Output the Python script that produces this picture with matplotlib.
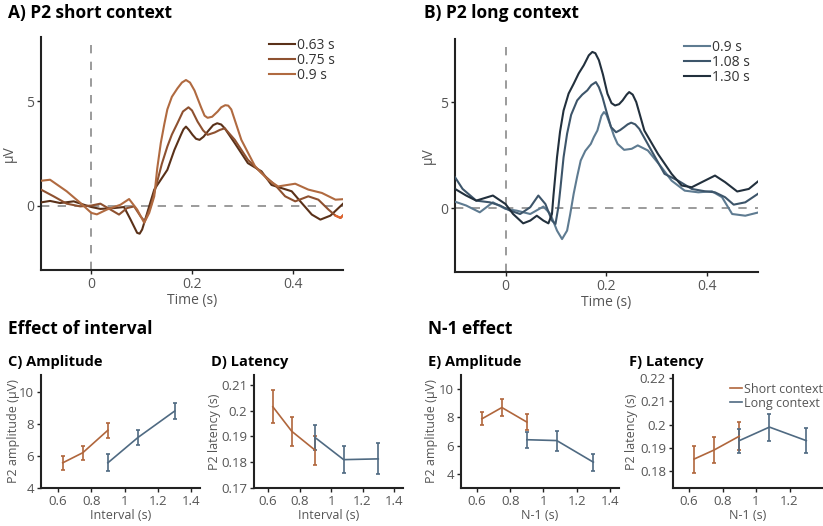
import matplotlib.pyplot as plt

plt.rcParams['font.family'] = ['Open Sans', 'DejaVu Sans']

# ---- ERP waveforms, short context (panel A) ----
t_s063 = [-0.1, -0.082, -0.062, -0.035, -0.015, 0.0, 0.018, 0.045, 0.065, 0.078, 0.091, 0.096,
          0.101, 0.111, 0.125, 0.138, 0.151, 0.165, 0.178, 0.183, 0.188, 0.194, 0.201, 0.208,
          0.215, 0.223, 0.231, 0.242, 0.25, 0.258, 0.265, 0.285, 0.311, 0.338, 0.358, 0.378,
          0.398, 0.418, 0.438, 0.455, 0.475, 0.505]
v_s063 = [0.17, 0.24, 0.14, 0.22, 0.06, -0.05, -0.14, -0.1, -0.05, -0.65, -1.28, -1.32,
          -1.12, -0.33, 0.78, 1.25, 1.72, 2.67, 3.39, 3.65, 3.78, 3.62, 3.39, 3.2,
          3.15, 3.3, 3.54, 3.85, 3.94, 3.88, 3.7, 2.99, 2.04, 1.65, 1.0, 0.85,
          0.7, 0.14, -0.41, -0.65, -0.46, 0.22]

t_s075 = [-0.1, -0.075, -0.049, -0.022, 0.0, 0.018, 0.038, 0.055, 0.071, 0.085, 0.098, 0.106,
          0.118, 0.131, 0.14, 0.151, 0.16, 0.171, 0.182, 0.193, 0.2, 0.211, 0.222, 0.231,
          0.245, 0.255, 0.265, 0.285, 0.311, 0.338, 0.365, 0.385, 0.405, 0.431, 0.451, 0.471,
          0.485, 0.495, 0.505]
v_s075 = [0.78, 0.46, 0.11, -0.02, 0.02, 0.11, -0.17, -0.41, -0.1, -0.02, -0.5, -0.73,
          -0.02, 1.17, 2.0, 2.83, 3.4, 3.94, 4.5, 4.7, 4.55, 4.02, 3.6, 3.39,
          3.5, 3.62, 3.7, 3.15, 2.2, 1.57, 1.0, 0.46, 0.22, 0.46, 0.3, -0.17,
          -0.46, -0.57, -0.33]

t_s090 = [-0.1, -0.082, -0.049, -0.022, 0.0, 0.011, 0.031, 0.058, 0.075, 0.091, 0.105, 0.115,
          0.125, 0.131, 0.138, 0.145, 0.151, 0.16, 0.171, 0.18, 0.188, 0.196, 0.205, 0.218,
          0.225, 0.231, 0.24, 0.251, 0.258, 0.266, 0.272, 0.278, 0.298, 0.325, 0.351, 0.371,
          0.405, 0.431, 0.458, 0.485, 0.505]
v_s090 = [1.2, 1.25, 0.7, 0.15, -0.33, -0.4, -0.17, 0.06, 0.33, -0.17, -0.8, -0.33,
          0.46, 1.8, 3.0, 3.9, 4.6, 5.2, 5.6, 5.88, 6.0, 5.88, 5.5, 4.7,
          4.3, 4.2, 4.25, 4.5, 4.7, 4.8, 4.78, 4.6, 3.15, 1.9, 1.25, 0.93,
          1.06, 0.78, 0.62, 0.3, 0.33]

# ---- ERP waveforms, long context (panel B) ----
t_l090 = [-0.1, -0.078, -0.051, -0.025, 0.0, 0.022, 0.049, 0.075, 0.089, 0.102, 0.112, 0.122,
          0.128, 0.135, 0.142, 0.149, 0.158, 0.169, 0.175, 0.182, 0.19, 0.195, 0.2, 0.209,
          0.215, 0.222, 0.235, 0.25, 0.262, 0.282, 0.309, 0.329, 0.355, 0.382, 0.409, 0.429,
          0.449, 0.475, 0.502]
v_l090 = [0.31, 0.13, -0.19, 0.28, -0.03, -0.11, -0.27, 0.08, -0.27, -1.05, -1.45, -1.05,
          -0.3, 0.68, 1.5, 2.25, 2.7, 3.03, 3.35, 3.66, 4.35, 4.53, 4.4, 3.82,
          3.4, 3.03, 2.75, 2.8, 2.96, 2.72, 1.93, 1.3, 0.83, 0.75, 0.8, 0.52,
          -0.27, -0.35, -0.19]

t_l108 = [-0.1, -0.085, -0.058, -0.031, -0.011, 0.009, 0.029, 0.049, 0.065, 0.079, 0.092, 0.099,
          0.105, 0.109, 0.115, 0.122, 0.13, 0.142, 0.152, 0.162, 0.17, 0.179, 0.185, 0.192,
          0.2, 0.209, 0.219, 0.227, 0.235, 0.242, 0.249, 0.257, 0.265, 0.289, 0.315, 0.342,
          0.369, 0.395, 0.415, 0.435, 0.452, 0.475, 0.502]
v_l108 = [1.46, 0.91, 0.36, 0.28, 0.13, -0.11, -0.27, 0.05, 0.6, 0.2, -0.58, -0.74,
          0.1, 0.99, 2.4, 3.51, 4.4, 5.08, 5.35, 5.55, 5.8, 5.94, 5.7, 5.24,
          4.55, 3.82, 3.58, 3.68, 3.82, 3.95, 4.03, 3.95, 3.74, 2.72, 1.62, 1.3,
          0.91, 0.8, 0.75, 0.52, 0.17, 0.28, 0.71]

t_l130 = [-0.1, -0.078, -0.058, -0.025, 0.0, 0.015, 0.035, 0.049, 0.062, 0.075, 0.085, 0.092,
          0.095, 0.102, 0.108, 0.115, 0.125, 0.135, 0.145, 0.155, 0.165, 0.172, 0.178, 0.185,
          0.193, 0.202, 0.21, 0.217, 0.225, 0.232, 0.24, 0.245, 0.252, 0.259, 0.265, 0.275,
          0.302, 0.329, 0.349, 0.369, 0.389, 0.415, 0.435, 0.459, 0.482, 0.502]
v_l130 = [0.91, 0.6, 0.36, 0.6, 0.2, -0.27, -0.71, -0.58, -0.35, -0.58, -0.71, -0.27,
          0.6, 2.4, 3.6, 4.6, 5.4, 5.86, 6.35, 6.73, 7.2, 7.36, 7.3, 6.97,
          6.3, 5.39, 4.95, 4.84, 4.9, 5.08, 5.35, 5.47, 5.35, 5.0, 4.5, 3.66,
          2.56, 1.62, 1.07, 0.99, 1.23, 1.54, 1.23, 0.79, 0.91, 1.3]

# ---- summary data (panels C-F) ----
short_iv = [0.63, 0.75, 0.9]
long_iv = [0.9, 1.08, 1.3]

amp_int_short = [5.57, 6.2, 7.6]
amp_int_short_err = [0.43, 0.44, 0.46]
amp_int_long = [5.57, 7.15, 8.8]
amp_int_long_err = [0.52, 0.46, 0.51]

lat_int_short = [0.2015, 0.192, 0.1846]
lat_int_short_err = [0.0064, 0.0056, 0.0055]
lat_int_long = [0.1895, 0.181, 0.1813]
lat_int_long_err = [0.0049, 0.0053, 0.006]

amp_n1_short = [7.9, 8.7, 7.67]
amp_n1_short_err = [0.47, 0.6, 0.58]
amp_n1_long = [6.42, 6.36, 4.83]
amp_n1_long_err = [0.58, 0.71, 0.59]

lat_n1_short = [0.1853, 0.1892, 0.1951]
lat_n1_short_err = [0.0058, 0.0056, 0.006]
lat_n1_long = [0.1932, 0.199, 0.1932]
lat_n1_long_err = [0.0051, 0.0058, 0.0055]

SHORT_COL = '#b0663c'
LONG_COL = '#4f6a82'
GREY = '#555555'
SPINE = '#222222'


def style_axes(ax, tick_size):
    for side in ['top', 'right']:
        ax.spines[side].set_visible(False)
    for side in ['left', 'bottom']:
        ax.spines[side].set_color(SPINE)
        ax.spines[side].set_linewidth(1.5)
    ax.tick_params(colors=SPINE, labelcolor=GREY, labelsize=tick_size,
                   length=3, width=1, pad=2)


fig = plt.figure(figsize=(8.23, 5.26), dpi=100)

# ---- top panels ----
axA = fig.add_axes([0.0498, 0.4867, 0.367, 0.443])
axB = fig.add_axes([0.5529, 0.4829, 0.368, 0.443])

erp_sets = [
    (axA, [(t_s063, v_s063, '#5a3119', '0.63 s'),
           (t_s075, v_s075, '#8e5130', '0.75 s'),
           (t_s090, v_s090, '#b06a40', '0.9 s')], (-3.05, 8.05), -0.079),
    (axB, [(t_l090, v_l090, '#5e7b91', '0.9 s'),
           (t_l108, v_l108, '#3d556a', '1.08 s'),
           (t_l130, v_l130, '#22303d', '1.30 s')], (-3.0, 7.97), -0.063),
]

for ax, curves, ylim, ylab_x in erp_sets:
    style_axes(ax, 10)
    ax.axvline(0, color='#8a8a8a', lw=1.2, ls=(0, (5, 5)), zorder=1)
    ax.axhline(0, color='#8a8a8a', lw=1.2, ls=(0, (5, 5)), zorder=1)
    for t, v, c, lab in curves:
        ax.plot(t, v, color=c, lw=1.5, label=lab, solid_joinstyle='round', zorder=3)
    ax.set_xlim(-0.1, 0.5)
    ax.set_ylim(*ylim)
    ax.set_xticks([0, 0.2, 0.4])
    ax.set_xticklabels(['0', '0.2', '0.4'])
    ax.set_yticks([0, 5])
    ax.set_xlabel('Time (s)', color=GREY, fontsize=10, labelpad=1)
    ax.set_ylabel('µV', color=GREY, fontsize=10)
    ax.yaxis.set_label_coords(ylab_x, 0.5)
    leg = ax.legend(loc='upper right', bbox_to_anchor=(1.0, 1.03), frameon=False,
                    fontsize=10, handlelength=1.9, handletextpad=0.1,
                    labelspacing=0.0, borderaxespad=0.2)
    for txt in leg.get_texts():
        txt.set_color('#333333')

# orange tail at the end of the 0.75 s trace
axA.plot(t_s075[-3:], v_s075[-3:], color='#e2622c', lw=1.5, zorder=4)

fig.text(0.0097, 0.975, 'A) P2 short context', fontsize=12.5, fontweight='bold', va='center')
fig.text(0.515, 0.975, 'B) P2 long context', fontsize=12.5, fontweight='bold', va='center')

# ---- bottom panels ----
fig.text(0.0097, 0.3745, 'Effect of interval', fontsize=12.5, fontweight='bold', va='center')
fig.text(0.520, 0.3745, 'N-1 effect', fontsize=12.5, fontweight='bold', va='center')

bottom = [
    ([0.0498, 0.0722, 0.193, 0.2148], 'C) Amplitude', (0.0097, 0.3124),
     amp_int_short, amp_int_short_err, amp_int_long, amp_int_long_err,
     (0.5, 1.45), (4, 11.04), [4, 6, 8, 10], ['4', '6', '8', '10'],
     [0.6, 0.8, 1.0, 1.2, 1.4], 'Interval (s)', 'P2 amplitude (µV)', -0.13),
    ([0.3086, 0.0722, 0.181, 0.2148], 'D) Latency', (0.2564, 0.3124),
     lat_int_short, lat_int_short_err, lat_int_long, lat_int_long_err,
     (0.51, 1.457), (0.17, 0.2138), [0.17, 0.18, 0.19, 0.2, 0.21],
     ['0.17', '0.18', '0.19', '0.2', '0.21'],
     [0.6, 0.8, 1.0, 1.2, 1.4], 'Interval (s)', 'P2 latency (s)', -0.22),
    ([0.5601, 0.0722, 0.192, 0.2148], 'E) Amplitude', (0.520, 0.3124),
     amp_n1_short, amp_n1_short_err, amp_n1_long, amp_n1_long_err,
     (0.504, 1.454), (3.0, 11.0), [4, 6, 8, 10], ['4', '6', '8', '10'],
     [0.6, 0.8, 1.0, 1.2, 1.4], 'N-1 (s)', 'P2 amplitude (µV)', -0.146),
    ([0.8177, 0.0722, 0.1823, 0.2148], 'F) Latency', (0.764, 0.3124),
     lat_n1_short, lat_n1_short_err, lat_n1_long, lat_n1_long_err,
     (0.504, 1.40), (0.1729, 0.2213), [0.18, 0.19, 0.2, 0.21, 0.22],
     ['0.18', '0.19', '0.2', '0.21', '0.22'],
     [0.6, 0.8, 1.0, 1.2], 'N-1 (s)', 'P2 latency (s)', -0.23),
]

for (pos, title, tpos, ys, es, yl, el, xlim, ylim, yticks, ylabs,
     xticks, xlab, ylab, ylab_x) in bottom:
    ax = fig.add_axes(pos)
    style_axes(ax, 9.5)
    ax.errorbar(short_iv, ys, yerr=es, color=SHORT_COL, lw=1.2, elinewidth=1.2,
                capsize=1.5, capthick=1.2, label='Short context')
    ax.errorbar(long_iv, yl, yerr=el, color=LONG_COL, lw=1.2, elinewidth=1.2,
                capsize=1.5, capthick=1.2, label='Long context')
    ax.set_xlim(*xlim)
    ax.set_ylim(*ylim)
    ax.set_xticks(xticks)
    ax.set_xticklabels(['{:g}'.format(x) for x in xticks])
    ax.set_yticks(yticks)
    ax.set_yticklabels(ylabs)
    ax.set_xlabel(xlab, color=GREY, fontsize=9, labelpad=1)
    ax.set_ylabel(ylab, color=GREY, fontsize=9)
    ax.yaxis.set_label_coords(ylab_x, 0.5)
    fig.text(tpos[0], tpos[1], title, fontsize=10.5, fontweight='bold', va='center')
    if title == 'F) Latency':
        handles, labels = ax.get_legend_handles_labels()
        handles = [h[0] for h in handles]
        leg = ax.legend(handles, labels, loc='upper right', bbox_to_anchor=(1.05, 1.0),
                        frameon=False, fontsize=9, handlelength=1.0,
                        handletextpad=0.15, labelspacing=0.1, borderaxespad=0.2)
        for txt in leg.get_texts():
            txt.set_color(GREY)

fig.savefig('out.png', dpi=100)
